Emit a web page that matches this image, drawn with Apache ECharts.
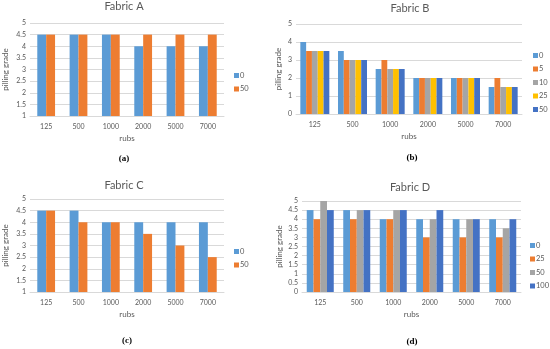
<!DOCTYPE html>
<html><head><meta charset="utf-8">
<script src="https://cdn.jsdelivr.net/npm/echarts@6/dist/echarts.min.js"></script>
<style>html,body{margin:0;padding:0;background:#fff}#c{width:550px;height:349px}</style>
</head><body><div id="c"></div>
<script>
const rubs = ['125','500','1000','2000','5000','7000'];

const fabricA_0  = [4.5,4.5,4.5,4,4,4];
const fabricA_50 = [4.5,4.5,4.5,4.5,4.5,4.5];

const fabricB_0  = [4,3.5,2.5,2,2,1.5];
const fabricB_5  = [3.5,3,3,2,2,2];
const fabricB_10 = [3.5,3,2.5,2,2,1.5];
const fabricB_25 = [3.5,3,2.5,2,2,1.5];
const fabricB_50 = [3.5,3,2.5,2,2,1.5];

const fabricC_0  = [4.5,4.5,4,4,4,4];
const fabricC_50 = [4.5,4,4,3.5,3,2.5];

const fabricD_0   = [4.5,4.5,4,4,4,4];
const fabricD_25  = [4,4,4,3,3,3];
const fabricD_50  = [5,4.5,4.5,4,4,3.5];
const fabricD_100 = [4.5,4.5,4.5,4.5,4,4];

const FONT = 'Lato';
const TXT = '#595959';
const GRIDC = '#D9D9D9';
const C_BLUE='#5B9BD5', C_OR='#ED7D31', C_GR='#A5A5A5', C_YE='#FFC000', C_DB='#4472C4';

const charts = [
  {key:'A', title:'Fabric A', sub:'(a)', grid:{left:29,right:326,top:23,bottom:233}, ymin:1, ymax:5, step:0.5,
   series:[['0',fabricA_0,C_BLUE],['50',fabricA_50,C_OR]], gap:'45%', tx:124, ty:1, sx:124, sy:154, lx:234, ly:71, yng:21},
  {key:'B', title:'Fabric B', sub:'(b)', grid:{left:296,right:28,top:24,bottom:235}, ymin:0, ymax:5, step:1,
   series:[['0',fabricB_0,C_BLUE],['5',fabricB_5,C_OR],['10',fabricB_10,C_GR],['25',fabricB_25,C_YE],['50',fabricB_50,C_DB]], gap:'23%', tx:410, ty:3, sx:412, sy:153, lx:533, ly:51, yng:14},
  {key:'C', title:'Fabric C', sub:'(c)', grid:{left:29,right:326,top:199,bottom:57}, ymin:1, ymax:5, step:0.5,
   series:[['0',fabricC_0,C_BLUE],['50',fabricC_50,C_OR]], gap:'45%', tx:124, ty:180, sx:127, sy:336, lx:234, ly:247, yng:21},
  {key:'D', title:'Fabric D', sub:'(d)', grid:{left:302,right:29,top:201,bottom:57}, ymin:0, ymax:5, step:0.5,
   series:[['0',fabricD_0,C_BLUE],['25',fabricD_25,C_OR],['50',fabricD_50,C_GR],['100',fabricD_100,C_DB]], gap:'26%', tx:410, ty:182, sx:412, sy:337, lx:530, ly:241, yng:19}
];

const option = {
  backgroundColor:'#fff',
  animation:false,
  title:[], legend:[], grid:[], xAxis:[], yAxis:[], series:[]
};

charts.forEach((c,i)=>{
  option.title.push({text:c.title, left:c.tx, top:c.ty, textAlign:'center', padding:0,
    textStyle:{fontFamily:FONT, fontSize:11, fontWeight:'normal', color:TXT}});
  option.title.push({text:c.sub, left:c.sx, top:c.sy, textAlign:'center', padding:0,
    textStyle:{fontFamily:'Liberation Serif', fontSize:9, fontWeight:'bold', color:'#000'}});
  option.grid.push(Object.assign({containLabel:false}, c.grid));
  option.xAxis.push({type:'category', gridIndex:i, data:rubs, name:'rubs', nameLocation:'middle', nameGap:18,
    nameTextStyle:{fontFamily:FONT, fontSize:8, color:TXT},
    axisLine:{lineStyle:{color:GRIDC}}, axisTick:{show:false},
    axisLabel:{fontFamily:FONT, fontSize:7, color:TXT, margin:7}});
  option.yAxis.push({type:'value', gridIndex:i, min:c.ymin, max:c.ymax, interval:c.step,
    name:'pilling grade', nameLocation:'middle', nameGap:c.yng,
    nameTextStyle:{fontFamily:FONT, fontSize:8, color:TXT},
    axisLine:{show:false}, axisTick:{show:false},
    axisLabel:{fontFamily:FONT, fontSize:7, color:TXT, margin:4},
    splitLine:{lineStyle:{color:GRIDC}}});
  const names=[];
  c.series.forEach(s=>{
    const nm = c.key+'|'+s[0];
    names.push(nm);
    option.series.push({type:'bar', name:nm, xAxisIndex:i, yAxisIndex:i, data:s[1],
      itemStyle:{color:s[2]}, barGap:'0%', barCategoryGap:c.gap});
  });
  option.legend.push({data:names, orient:'vertical', left:c.lx, top:c.ly, padding:0,
    itemWidth:5, itemHeight:5, itemGap:4.5, icon:'rect',
    formatter:n=>n.split('|')[1],
    textStyle:{fontFamily:FONT, fontSize:7.5, lineHeight:9, color:TXT, padding:[0,0,0,-4]}});
});

const chart = echarts.init(document.getElementById('c'), null, {renderer:'canvas'});
chart.setOption(option);
</script>
</body></html>
